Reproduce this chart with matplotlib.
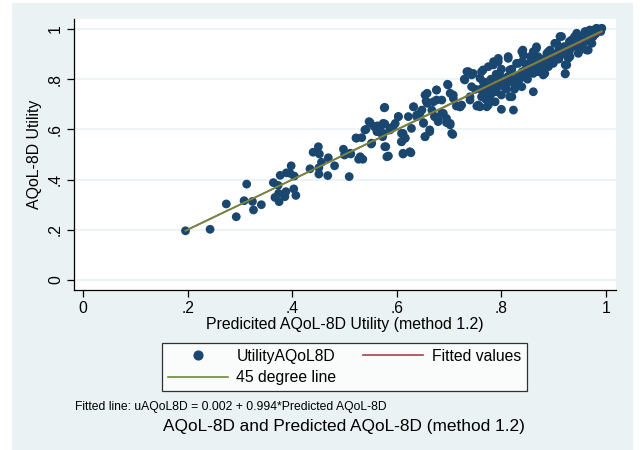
import matplotlib
matplotlib.use("Agg")
import matplotlib.pyplot as plt
import numpy as np
from matplotlib.lines import Line2D
from matplotlib.patches import Rectangle

plt.rcParams['font.family'] = ['Liberation Sans', 'DejaVu Sans']

predicted = [
    0.196, 0.243, 0.274, 0.293, 0.313, 0.308, 0.324, 0.326, 0.341, 0.364,
    0.373, 0.377, 0.367, 0.375, 0.374, 0.386, 0.388, 0.389, 0.398, 0.396,
    0.404, 0.403, 0.407, 0.434, 0.440, 0.450, 0.452, 0.451, 0.451, 0.456,
    0.468, 0.469, 0.481, 0.498, 0.500, 0.509, 0.512, 0.522, 0.527, 0.511,
    0.533, 0.530, 0.535, 0.541, 0.547, 0.551, 0.557, 0.563, 0.566, 0.573,
    0.576, 0.577, 0.579, 0.584, 0.587, 0.593, 0.603, 0.609, 0.609, 0.612,
    0.616, 0.622, 0.627, 0.632, 0.638, 0.648, 0.651, 0.654, 0.656, 0.658,
    0.663, 0.667, 0.672, 0.676, 0.676, 0.679, 0.686, 0.689, 0.695, 0.697,
    0.702, 0.707, 0.708, 0.714, 0.724, 0.729, 0.737, 0.743, 0.750, 0.753,
    0.759, 0.762, 0.765, 0.772, 0.775, 0.781, 0.785, 0.788, 0.794, 0.800,
    0.804, 0.813, 0.816, 0.823, 0.826, 0.832, 0.841, 0.842, 0.848, 0.858,
    0.861, 0.867, 0.874, 0.880, 0.887, 0.893, 0.899, 0.902, 0.912, 0.915,
    0.922, 0.925, 0.931, 0.937, 0.944, 0.950, 0.956, 0.966, 0.969, 0.975,
    0.982, 0.992,
    0.734, 0.730, 0.746, 0.762, 0.765, 0.772, 0.769, 0.778, 0.775, 0.759,
    0.785, 0.794, 0.797, 0.791, 0.800, 0.813, 0.816, 0.810, 0.820, 0.829,
    0.832, 0.839, 0.839, 0.848, 0.855, 0.861, 0.867, 0.871, 0.880, 0.883,
    0.890, 0.899, 0.906, 0.912, 0.915, 0.922, 0.922, 0.928, 0.934, 0.937,
    0.947, 0.953, 0.963, 0.960, 0.969, 0.975, 0.973, 0.947, 0.893, 0.861,
    0.740, 0.721,
    0.577, 0.549, 0.558, 0.568, 0.574, 0.562, 0.574, 0.587, 0.597, 0.603,
    0.539, 0.523, 0.552, 0.577, 0.581, 0.612, 0.609, 0.616, 0.612, 0.625,
    0.628, 0.632, 0.638, 0.644, 0.651, 0.654, 0.663, 0.654, 0.658, 0.670,
    0.676, 0.673, 0.679, 0.686, 0.695, 0.702, 0.705, 0.702, 0.708, 0.721,
    0.740, 0.743, 0.756, 0.698,
    0.770, 0.780, 0.790, 0.800, 0.810, 0.820, 0.830, 0.840, 0.850, 0.780,
    0.760, 0.770, 0.790, 0.800, 0.820, 0.840, 0.860, 0.870, 0.880, 0.890,
    0.900, 0.910, 0.920, 0.930, 0.940, 0.950, 0.960, 0.970, 0.980, 0.990,
    0.960, 0.950, 0.940, 0.930, 0.920, 0.910, 0.900, 0.890, 0.880, 0.870,
    0.860, 0.850, 0.970, 0.980, 0.990, 0.975, 0.965, 0.955, 0.945, 0.935,
    0.790, 0.805, 0.815, 0.825, 0.835, 0.845, 0.795, 0.785, 0.775, 0.812,
    0.828, 0.838, 0.852, 0.866, 0.876, 0.886, 0.896, 0.906, 0.918, 0.926,
]
utility = [
    0.196, 0.202, 0.303, 0.252, 0.382, 0.316, 0.313, 0.279, 0.300, 0.388,
    0.377, 0.417, 0.329, 0.312, 0.345, 0.332, 0.352, 0.427, 0.455, 0.425,
    0.414, 0.363, 0.337, 0.443, 0.509, 0.531, 0.502, 0.447, 0.422, 0.469,
    0.416, 0.487, 0.455, 0.521, 0.498, 0.412, 0.502, 0.566, 0.481, 0.505,
    0.567, 0.491, 0.481, 0.600, 0.631, 0.542, 0.611, 0.614, 0.591, 0.571,
    0.686, 0.622, 0.531, 0.494, 0.604, 0.611, 0.651, 0.584, 0.551, 0.502,
    0.565, 0.651, 0.507, 0.690, 0.657, 0.677, 0.627, 0.571, 0.713, 0.744,
    0.598, 0.677, 0.651, 0.757, 0.717, 0.637, 0.717, 0.664, 0.627, 0.780,
    0.618, 0.580, 0.737, 0.693, 0.697, 0.800, 0.830, 0.817, 0.760, 0.693,
    0.804, 0.730, 0.837, 0.690, 0.850, 0.757, 0.870, 0.710, 0.883, 0.680,
    0.784, 0.883, 0.730, 0.677, 0.770, 0.863, 0.916, 0.896, 0.810, 0.876,
    0.750, 0.929, 0.850, 0.817, 0.903, 0.890, 0.863, 0.943, 0.970, 0.923,
    0.821, 0.857, 0.890, 0.956, 0.983, 0.916, 0.943, 0.916, 0.989, 0.970,
    1.003, 1.003,
    0.830, 0.797, 0.823, 0.830, 0.790, 0.770, 0.744, 0.717, 0.697, 0.690,
    0.857, 0.870, 0.817, 0.770, 0.737, 0.890, 0.837, 0.784, 0.730, 0.863,
    0.810, 0.910, 0.770, 0.850, 0.890, 0.823, 0.923, 0.876, 0.850, 0.823,
    0.896, 0.876, 0.943, 0.910, 0.970, 0.857, 0.823, 0.883, 0.956, 0.929,
    0.970, 0.943, 0.916, 0.983, 0.996, 0.970, 0.943, 0.903, 0.916, 0.910,
    0.717, 0.690,
    0.688, 0.627, 0.611, 0.604, 0.624, 0.591, 0.584, 0.598, 0.624, 0.651,
    0.598, 0.565, 0.545, 0.531, 0.491, 0.584, 0.551, 0.565, 0.505, 0.511,
    0.604, 0.690, 0.651, 0.664, 0.624, 0.571, 0.591, 0.737, 0.704, 0.710,
    0.757, 0.651, 0.631, 0.664, 0.644, 0.624, 0.584, 0.744, 0.724, 0.690,
    0.730, 0.770, 0.697, 0.777,
    0.780, 0.800, 0.750, 0.790, 0.760, 0.800, 0.780, 0.830, 0.800, 0.740,
    0.760, 0.720, 0.820, 0.840, 0.840, 0.870, 0.850, 0.830, 0.880, 0.850,
    0.900, 0.880, 0.930, 0.910, 0.940, 0.960, 0.950, 0.980, 0.980, 1.000,
    0.990, 0.930, 0.970, 0.950, 0.900, 0.920, 0.870, 0.910, 0.860, 0.890,
    0.880, 0.860, 0.950, 1.000, 0.990, 0.985, 0.975, 0.965, 0.955, 0.935,
    0.760, 0.770, 0.790, 0.760, 0.800, 0.820, 0.800, 0.770, 0.790, 0.810,
    0.790, 0.810, 0.840, 0.860, 0.870, 0.880, 0.880, 0.900, 0.915, 0.920,
]

fit_intercept = 0.002
fit_slope = 0.994

x_ticks = [0, 0.2, 0.4, 0.6, 0.8, 1.0]
x_tick_labels = ["0", ".2", ".4", ".6", ".8", "1"]
y_ticks = [0, 0.2, 0.4, 0.6, 0.8, 1.0]
y_tick_labels = ["0", ".2", ".4", ".6", ".8", "1"]

BG = "#EAF2F3"
NAVY = "#1A476F"
RED = "#A0474B"
GREEN = "#6E8B3D"

fig = plt.figure(figsize=(6.4, 4.5), dpi=100)
fig.patch.set_facecolor("white")
fig.patches.append(Rectangle((12/640, 0), (633-12)/640, (450-3)/450,
                             transform=fig.transFigure, facecolor=BG,
                             edgecolor="none", zorder=-10))

ax = fig.add_axes([74/640, 1-290/450, (616-74)/640, (290-19)/450])
ax.set_facecolor("white")

xmin, xmax = min(predicted), max(predicted)
xs = np.array([xmin, xmax])
ax.grid(axis='y', color=BG, linewidth=1.2, zorder=0)
ax.set_axisbelow(True)

ax.scatter(predicted, utility, s=40, color=NAVY, edgecolors='none', zorder=3)
ax.plot(xs, fit_intercept + fit_slope * xs, color=RED, linewidth=1.2, zorder=4)
ax.plot(xs, xs, color=GREEN, linewidth=1.2, zorder=5)

ax.set_xlim(-9/523, 533/523)
ax.set_ylim(-10/251, 261/251)
ax.set_xticks(x_ticks)
ax.set_xticklabels(x_tick_labels, fontsize=11.3)
ax.set_yticks(y_ticks)
ax.set_yticklabels(y_tick_labels, fontsize=11.3, rotation=90, va='center')
ax.tick_params(direction='out', length=5, width=0.9, color='black', pad=3)
for s in ['top', 'right']:
    ax.spines[s].set_visible(False)
for s in ['left', 'bottom']:
    ax.spines[s].set_linewidth(0.9)

ax.set_xlabel("Predicited AQoL-8D Utility (method 1.2)", fontsize=11.4, labelpad=1)
ax.set_ylabel("AQoL-8D Utility", fontsize=11.4, labelpad=4)

handles = [
    Line2D([], [], linestyle='none', marker='o', markersize=6.3, color=NAVY),
    Line2D([], [], color=GREEN, linewidth=1.2),
    Line2D([], [], color=RED, linewidth=1.2),
]
labels = ["UtilityAQoL8D", "45 degree line", "Fitted values"]
leg = fig.legend(handles, labels, ncol=2, loc='center',
                 bbox_to_anchor=(344.5/640, 1-367/450),
                 fontsize=11.3, frameon=True, fancybox=False, edgecolor='black',
                 facecolor='white', handlelength=3.8, columnspacing=1.7,
                 borderpad=0.35, labelspacing=0.4, handletextpad=0.57,
                 borderaxespad=0)
leg.get_frame().set_linewidth(0.9)

fig.text(75/640, 1-407/450, "Fitted line: uAQoL8D = 0.002 + 0.994*Predicted AQoL-8D",
         fontsize=8.7, va='center', ha='left')
fig.text(344/640, 1-427/450, "AQoL-8D and Predicted AQoL-8D (method 1.2)",
         fontsize=12.4, va='center', ha='center')

fig.savefig("out.png", dpi=100, facecolor=fig.get_facecolor())
